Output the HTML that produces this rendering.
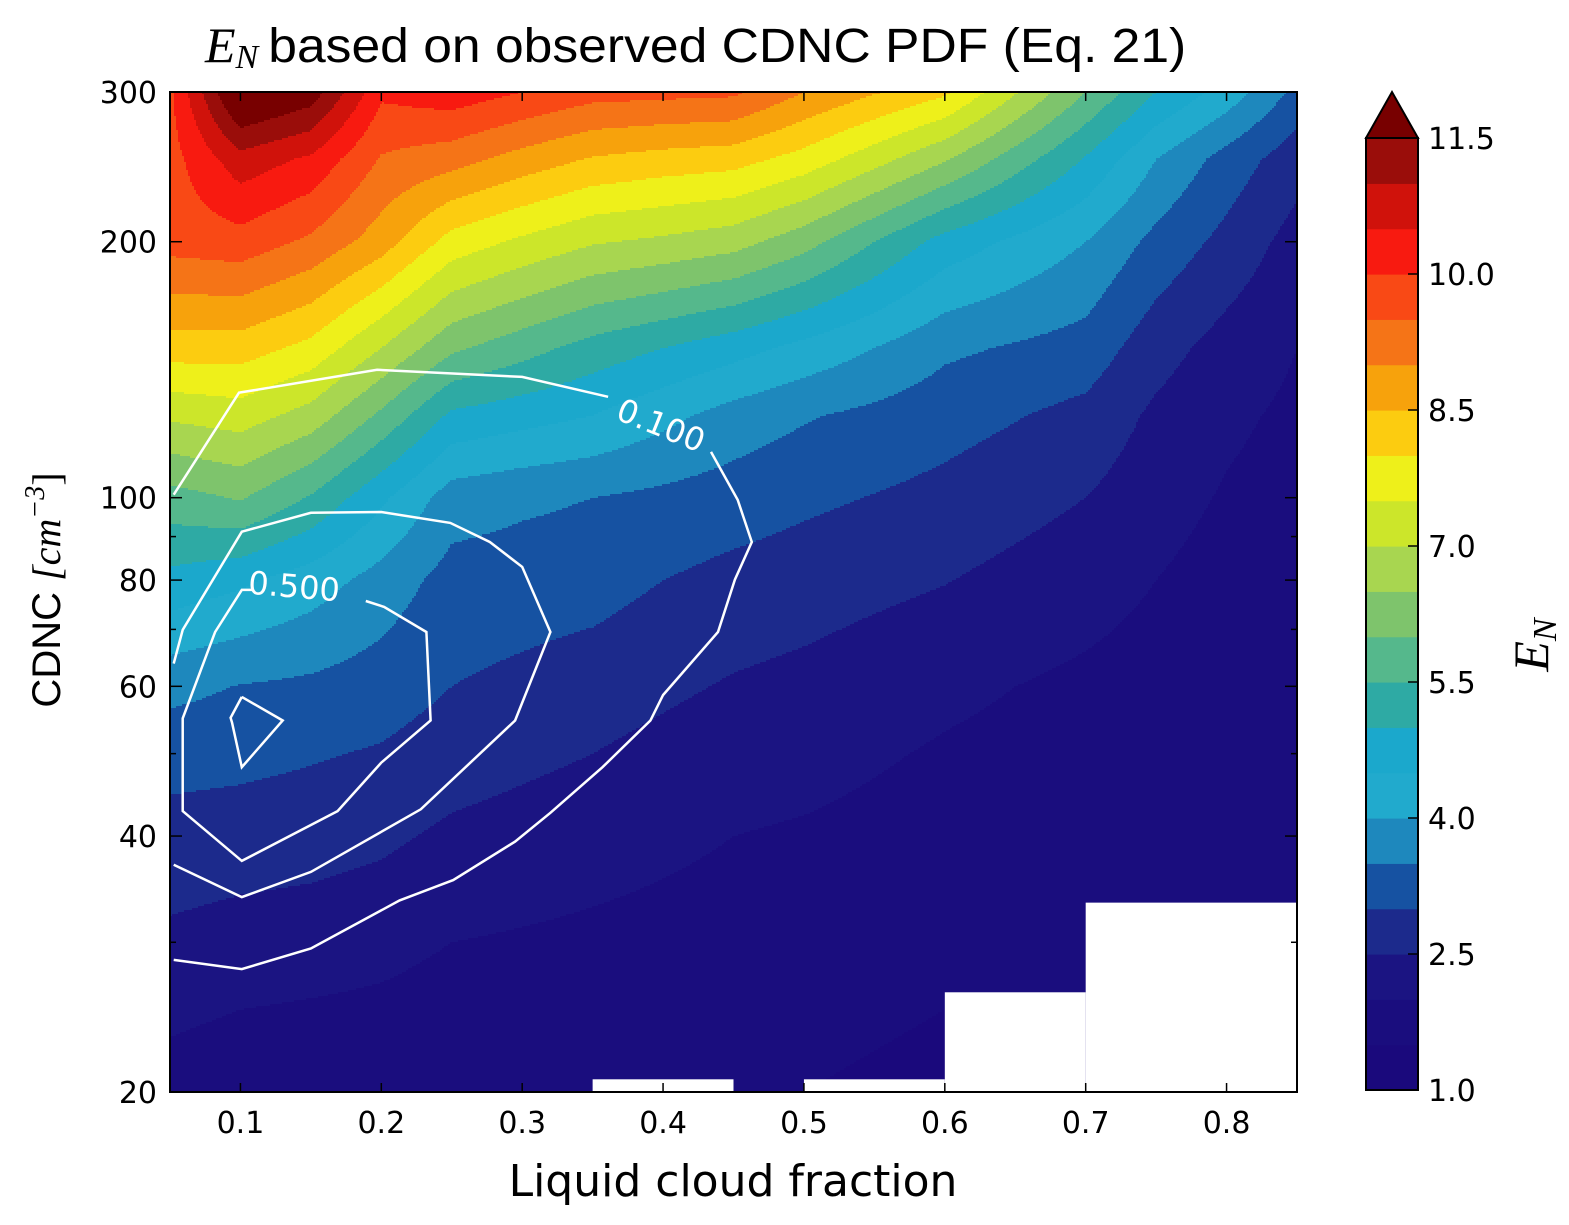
<!DOCTYPE html>
<html><head><meta charset="utf-8">
<style>
html,body{margin:0;padding:0;background:#fff;}
svg{display:block;}
text{font-family:"DejaVu Sans","Liberation Sans",sans-serif;fill:#000;}
</style></head>
<body>
<svg id="chart" width="1569" height="1225" viewBox="0 0 1569 1225" xmlns="http://www.w3.org/2000/svg">
  <rect x="0" y="0" width="1569" height="1225" fill="#fff"/>
  <text x="205" y="62" font-size="48"><tspan font-family="Liberation Serif" font-style="italic" font-size="50">E</tspan><tspan font-family="Liberation Serif" font-style="italic" font-size="34" dy="6">N</tspan><tspan dy="-6" font-family="Liberation Sans" dx="10" textLength="918" lengthAdjust="spacingAndGlyphs">based on observed CDNC PDF (Eq. 21)</tspan></text>
  <g id="field"></g>
  <g id="nan"></g>
  <g id="contours"></g>
  <g id="axes"></g>
  <g id="cbar"></g>
  <text x="733" y="1196" font-size="44" text-anchor="middle" font-family="Liberation Sans">Liquid cloud fraction</text>
  <text transform="translate(60,590) rotate(-90)" font-size="40" text-anchor="middle"><tspan font-family="Liberation Sans">CDNC </tspan><tspan font-family="Liberation Serif" font-style="italic">[cm</tspan><tspan font-family="Liberation Serif" font-style="italic" font-size="28" dy="-16">−3</tspan><tspan font-family="Liberation Serif" dy="16">]</tspan></text>
  <text transform="translate(1548,645) rotate(-90)" font-size="50" text-anchor="middle"><tspan font-family="Liberation Serif" font-style="italic">E</tspan><tspan font-family="Liberation Serif" font-style="italic" font-size="34" dy="8">N</tspan></text>
</svg>
<script>
// ---- data ----
const lcf = [0.05,0.10,0.15,0.20,0.25,0.30,0.35,0.40,0.45,0.50,0.55,0.60,0.65,0.70,0.75,0.80,0.85];
const cdncRows = [20,25,30,40,50,60,80,100,125,150,200,250,300];
const en_c20  = [1.8,1.7,1.7,1.65,1.6,1.58,1.55,1.52,1.5,1.5,1.45,1.4,1.45,1.5,1.5,1.5,1.5];
const en_c25  = [2.1,2.0,1.95,1.9,1.8,1.75,1.7,1.65,1.6,1.6,1.55,1.5,1.5,1.5,1.5,1.5,1.5];
const en_c30  = [2.4,2.3,2.25,2.15,2.0,1.95,1.9,1.85,1.8,1.75,1.68,1.6,1.58,1.55,1.5,1.5,1.5];
const en_c40  = [2.8,2.75,2.7,2.6,2.4,2.3,2.2,2.1,2.0,1.95,1.88,1.8,1.75,1.7,1.6,1.55,1.5];
const en_c50  = [3.2,3.15,3.05,2.95,2.75,2.62,2.5,2.35,2.2,2.15,2.05,1.95,1.88,1.8,1.7,1.6,1.55];
const en_c60  = [3.65,3.48,3.4,3.25,3.0,2.88,2.75,2.6,2.45,2.35,2.22,2.1,2.0,1.9,1.8,1.7,1.6];
const en_c80  = [4.85,4.6,4.25,3.8,3.3,3.25,3.2,3.0,2.85,2.75,2.63,2.52,2.36,2.2,2.0,1.8,1.7];
const en_c100 = [5.8,6.05,5.45,4.6,3.75,3.6,3.5,3.38,3.25,3.1,2.98,2.85,2.68,2.5,2.2,1.95,1.8];
const en_c125 = [7.1,7.25,6.8,5.9,4.9,4.7,4.5,4.15,3.8,3.55,3.38,3.2,3.03,2.85,2.4,2.1,1.9];
const en_c150 = [8.25,8.25,7.85,7.0,6.1,5.7,5.3,5.0,4.7,4.35,4.0,3.6,3.45,3.3,2.7,2.3,2.0];
const en_c200 = [9.7,9.8,9.4,8.75,7.8,7.4,7.05,6.9,6.7,6.2,5.5,4.8,4.4,4.0,3.35,2.85,2.3];
const en_c250 = [9.8,10.8,10.4,9.45,9.2,8.8,8.45,8.3,8.2,7.8,7.2,6.55,5.75,4.95,4.0,3.3,2.7];
const en_c300 = [9.9,12.3,11.8,10.1,10.3,10.0,9.7,9.65,9.6,9.0,8.55,8.1,7.05,6.0,5.0,4.3,3.35];
const enGrid = [en_c20,en_c25,en_c30,en_c40,en_c50,en_c60,en_c80,en_c100,en_c125,en_c150,en_c200,en_c250,en_c300];

const levelMin = 1.0, levelStep = 0.5;
const bandColors = ['#1a097c','#1a0d7e','#1b1482','#1c2a8c','#1652a2','#1e88bd','#21aacd','#1ba8cc','#2eaaa4','#55b88c','#7ec46c','#a8d650','#cce62a','#eef01a','#fccc10','#f7a20c','#f57417','#f94915','#f81a10','#d0120b','#9a0d0a'];
const overColor = '#780000';
const cbarTicks = [1.0,2.5,4.0,5.5,7.0,8.5,10.0,11.5];

const xTicks = [0.1,0.2,0.3,0.4,0.5,0.6,0.7,0.8];
const yTicksMajor = [20,40,60,80,100,200,300];
const yTicksMinor = [30,50,70,90];

// missing data rectangles: [x0, x1, cdncTop]
const nanX0 = [0.70,0.60,0.35,0.50];
const nanX1 = [0.85,0.70,0.45,0.60];
const nanTop = [33.4,26.2,20.7,20.7];

// PDF contour lines [lcf, cdnc]
const pdf010a = [[0.0526,28.6],[0.101,27.9],[0.150,29.5],[0.213,33.6],[0.251,35.5],[0.295,39.4],[0.320,42.6],[0.357,48.2],[0.391,54.7],[0.400,58.6],[0.439,69.5],[0.451,80.1],[0.463,88.7],[0.453,99.4],[0.434,113.2]];
const pdf010b = [[0.361,131.4],[0.300,138.7],[0.197,141.4],[0.099,132.9],[0.0526,100.8]];
const pdf030 = [[0.0526,37.0],[0.101,33.9],[0.150,36.3],[0.228,43.0],[0.295,54.7],[0.320,69.5],[0.300,82.9],[0.277,88.7],[0.249,93.4],[0.200,96.2],[0.150,96.0],[0.101,91.2],[0.059,69.9],[0.0526,63.8]];
const pdf050 = [[0.189,75.6],[0.202,74.4],[0.232,69.5],[0.235,54.7],[0.200,48.8],[0.169,42.8],[0.101,37.4],[0.059,42.8],[0.059,55.0],[0.082,69.5],[0.101,77.9],[0.109,77.9]];
const pdf100 = [[0.101,58.3],[0.130,54.7],[0.101,48.2],[0.094,54.4],[0.093,55.1],[0.101,58.3]];
const contourLabels = ['0.100','0.500'];
const contourLabelPos = [[0.398,121],[0.138,78.2]];
const contourLabelRot = [22,5];

// ---- scales ----
const PL=170, PR=1297, PT=92, PB=1092;
const X0=0.05, X1=0.85, C0=20, C1=300;
function xScale(v){return PL+(v-X0)/(X1-X0)*(PR-PL);}
function yScale(c){return PB-(Math.log10(c)-Math.log10(C0))/(Math.log10(C1)-Math.log10(C0))*(PB-PT);}
function xInv(px){return X0+(px-PL)/(PR-PL)*(X1-X0);}
function yInvLog(py){return Math.log10(C0)+(PB-py)/(PB-PT)*(Math.log10(C1)-Math.log10(C0));}
const CB_T=138, CB_B=1090;
function cbScale(v){return CB_B-(v-levelMin)/(bandColors.length*levelStep)*(CB_B-CB_T);}

const NS='http://www.w3.org/2000/svg';
function mk(tag,attrs,parent){const e=document.createElementNS(NS,tag);for(const k in attrs)e.setAttribute(k,attrs[k]);parent.appendChild(e);return e;}

function colorFor(v){
  if(v>=levelMin+bandColors.length*levelStep) return overColor;
  let i=Math.floor((v-levelMin)/levelStep);
  if(i<0)i=0;
  return bandColors[i];
}
const logRows=cdncRows.map(c=>Math.log10(c));
function valueAt(x,lc){
  let j=0; while(j<logRows.length-2 && lc>logRows[j+1]) j++;
  let i=0; while(i<lcf.length-2 && x>lcf[i+1]) i++;
  let ty=(lc-logRows[j])/(logRows[j+1]-logRows[j]); ty=Math.max(0,Math.min(1,ty));
  let tx=(x-lcf[i])/(lcf[i+1]-lcf[i]); tx=Math.max(0,Math.min(1,tx));
  const a=enGrid[j][i], b=enGrid[j][i+1], c=enGrid[j+1][i], d=enGrid[j+1][i+1];
  return (a*(1-tx)+b*tx)*(1-ty)+(c*(1-tx)+d*tx)*ty;
}

// ---- field ----
const field=document.getElementById('field');
const STEP=2;
function flushRun(x0,x1,py,color){
  const r=mk('rect',{x:x0,y:py,width:x1-x0+0.6,height:STEP+0.6,fill:color},field);
  
  
}
for(let py=PT; py<PB; py+=STEP){
  const lc=yInvLog(py+STEP/2);
  let runStart=PL, runColor=null;
  for(let px=PL; px<PR; px+=STEP){
    const col=colorFor(valueAt(xInv(px+STEP/2),lc));
    if(col!==runColor){
      if(runColor!==null) flushRun(runStart,px,py,runColor);
      runStart=px; runColor=col;
    }
  }
  if(runColor!==null) flushRun(runStart,PR,py,runColor);
}

// ---- NaN regions ----
const nan=document.getElementById('nan');
for(let k=0;k<nanX0.length;k++){
  const r=mk('rect',{x:xScale(nanX0[k]),y:yScale(nanTop[k]),width:xScale(nanX1[k])-xScale(nanX0[k]),height:PB-yScale(nanTop[k]),fill:'#fff'},nan);
  
  
}

// ---- contours ----
const cg=document.getElementById('contours');
const lines=[['pdf-contour-0.100-lower',pdf010a],['pdf-contour-0.100-upper',pdf010b],['pdf-contour-0.300',pdf030],['pdf-contour-0.500',pdf050],['pdf-contour-1.000',pdf100]];
lines.forEach(([nm,pts])=>{
  const p=mk('polyline',{points:pts.map(q=>xScale(q[0]).toFixed(1)+','+yScale(q[1]).toFixed(1)).join(' '),fill:'none',stroke:'#fff','stroke-width':2.5,'stroke-linejoin':'miter'},cg);
  
  
});
contourLabels.forEach((t,k)=>{
  const x=xScale(contourLabelPos[k][0]), y=yScale(contourLabelPos[k][1]);
  const e=mk('text',{x:x,y:y,'font-size':32,'text-anchor':'middle','dominant-baseline':'middle',transform:`rotate(${contourLabelRot[k]},${x},${y})`},cg);
  e.style.fill='#fff';
  e.textContent=t;
  
  
});

// ---- axes ----
const ax=document.getElementById('axes');
const frame=mk('rect',{x:PL,y:PT,width:PR-PL,height:PB-PT,fill:'none',stroke:'#000','stroke-width':2},ax);


xTicks.forEach(v=>{
  const x=xScale(v);
  const t1=mk('line',{x1:x,y1:PB,x2:x,y2:PB-9,stroke:'#000','stroke-width':1.5},ax);
  
  
  const t2=mk('line',{x1:x,y1:PT,x2:x,y2:PT+9,stroke:'#000','stroke-width':1.5},ax);
  
  
  const l=mk('text',{x:x,y:1133,'font-size':30,'text-anchor':'middle'},ax);
  l.textContent=v.toFixed(1);
  
  
});
yTicksMajor.forEach(v=>{
  const y=yScale(v);
  const t1=mk('line',{x1:PL,y1:y,x2:PL+12,y2:y,stroke:'#000','stroke-width':1.5},ax);
  
  
  const t2=mk('line',{x1:PR,y1:y,x2:PR-12,y2:y,stroke:'#000','stroke-width':1.5},ax);
  
  
  const l=mk('text',{x:157,y:y+11,'font-size':30,'text-anchor':'end'},ax);
  l.textContent=String(v);
  
  
});
yTicksMinor.forEach(v=>{
  const y=yScale(v);
  const t1=mk('line',{x1:PL,y1:y,x2:PL+6,y2:y,stroke:'#000','stroke-width':1.5},ax);
  
  
  const t2=mk('line',{x1:PR,y1:y,x2:PR-6,y2:y,stroke:'#000','stroke-width':1.5},ax);
  
  
});

// ---- colorbar ----
const cb=document.getElementById('cbar');
const CBL=1366, CBR=1418;
bandColors.forEach((c,i)=>{
  const lo=levelMin+i*levelStep, hi=lo+levelStep;
  const r=mk('rect',{x:CBL,y:cbScale(hi),width:CBR-CBL,height:cbScale(lo)-cbScale(hi)+0.6,fill:c},cb);
  
  
});
const tri=mk('polygon',{points:`${CBL},${CB_T} ${(CBL+CBR)/2},${CB_T-46} ${CBR},${CB_T}`,fill:overColor,stroke:'#000','stroke-width':2},cb);


const cbf=mk('rect',{x:CBL,y:CB_T,width:CBR-CBL,height:CB_B-CB_T,fill:'none',stroke:'#000','stroke-width':2},cb);


cbarTicks.forEach(v=>{
  const y=cbScale(v);
  const t=mk('line',{x1:CBR,y1:y,x2:CBR-10,y2:y,stroke:'#000','stroke-width':1.5},cb);
  
  
  const l=mk('text',{x:1428,y:y+11,'font-size':30},cb);
  l.textContent=v.toFixed(1);
  
  
});
</script>
</body></html>
